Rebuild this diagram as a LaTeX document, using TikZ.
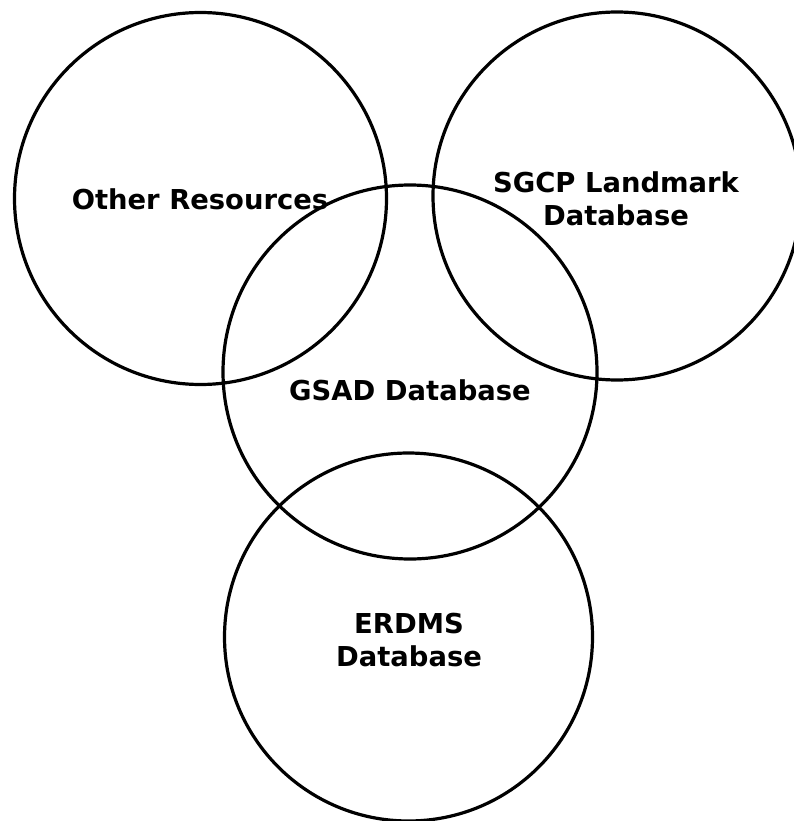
\documentclass[tikz,border=0pt]{standalone}
\usepackage{fontspec}
\setmainfont{DejaVu Sans}
\begin{document}
\begin{tikzpicture}[x=1pt,y=-1pt,
  ring/.style={circle,draw=black,line width=3.2pt,inner sep=0pt,minimum size=#1},
  lbl/.style={inner sep=0pt,align=center,font=\bfseries\fontsize{27.4}{33.5}\selectfont}]
\useasboundingbox (0,0) rectangle (793,821);
\node[ring=372pt] (other) at (200.5,198.5) {};
\node[ring=368pt] (sgcp) at (617,196) {};
\node[ring=374pt] (gsad) at (410,372) {};
\node[ring=368pt] (erdms) at (408.5,637) {};
\node[lbl] (otherlbl) at (200,199.5) {Other Resources};
\node[lbl] (sgcplbl) at (616,199) {SGCP Landmark\\Database};
\node[lbl] (gsadlbl) at (410,390.5) {GSAD Database};
\node[lbl] (erdmslbl) at (409,640) {ERDMS\\Database};
\end{tikzpicture}
\end{document}
